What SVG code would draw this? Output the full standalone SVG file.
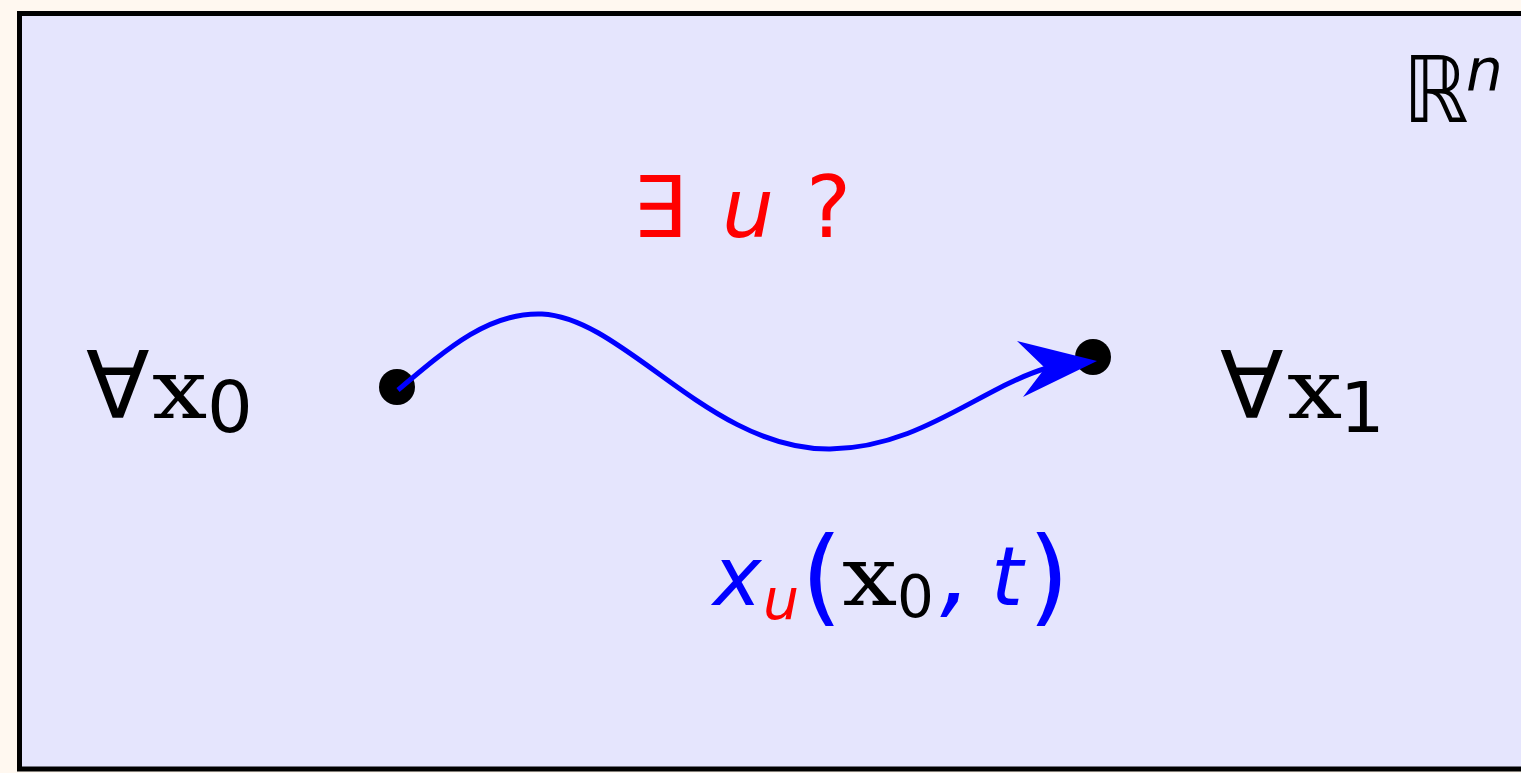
<svg xmlns="http://www.w3.org/2000/svg" width="1521" height="773" viewBox="0 0 1521 773">
<defs>
<style>
.sans{font-family:"DejaVu Sans",sans-serif}
.serif{font-family:"DejaVu Serif",serif}
.it{font-style:italic}
</style>
</defs>
<rect x="0" y="0" width="1521" height="773" fill="#fff8f0"/>
<rect id="space" x="19.5" y="13.5" width="1520" height="755.5" fill="#e5e5fd" stroke="#000" stroke-width="5"/>
<g id="x0pt"><circle cx="397" cy="387" r="18" fill="#000"/></g>
<g id="x1pt"><circle cx="1093" cy="357" r="18" fill="#000"/></g>
<g id="connectors">
<path d="M398,390 C450,346 490,312 542,314 C625,318 710,450 830,449 C920,448 980,388 1047,368" fill="none" stroke="#0000ff" stroke-width="5"/>
<path d="M1097,361 L1017,341 L1045,368 L1023,397 Z" fill="#0000ff"/>
</g>
<g id="label-x0">
<text x="86" y="418" class="sans" font-size="93" fill="#000">∀</text>
<text transform="translate(152,418) scale(1.18,1)" class="serif" font-size="83" fill="#000">x</text>
<text x="207" y="432" class="sans" font-size="72" fill="#000">0</text>
</g>
<g id="label-x1">
<text x="1220" y="418" class="sans" font-size="93" fill="#000">∀</text>
<text transform="translate(1287,418) scale(1.18,1)" class="serif" font-size="83" fill="#000">x</text>
<text x="1340" y="432" class="sans" font-size="70" fill="#000">1</text>
</g>
<g id="label-exists">
<text x="632" y="237" class="sans" font-size="85" fill="#ff0000">∃</text>
<text x="722" y="237" class="sans it" font-size="82" fill="#ff0000">u</text>
<text x="806" y="237" class="sans" font-size="85" fill="#ff0000">?</text>
</g>
<g id="label-rn">
<text transform="translate(1403,122) scale(0.9,1)" class="sans" font-size="92" fill="#000">ℝ</text>
<text x="1466" y="90" class="sans it" font-size="58" fill="#000">n</text>
</g>
<g id="label-traj">
<text x="713" y="605" class="sans it" font-size="82" fill="#0000ff">x</text>
<text x="763" y="619" class="sans it" font-size="57" fill="#ff0000">u</text>
<text x="801" y="612" class="sans" font-size="106" fill="#0000ff">(</text>
<text transform="translate(842,605) scale(1.18,1)" class="serif" font-size="83" fill="#000">x</text>
<text x="897" y="617" class="sans" font-size="58" fill="#000">0</text>
<text x="940" y="605" class="sans it" font-size="100" fill="#0000ff">,</text>
<text x="991" y="605" class="sans it" font-size="82" fill="#0000ff">t</text>
<text x="1028" y="612" class="sans" font-size="106" fill="#0000ff">)</text>
</g>
</svg>
